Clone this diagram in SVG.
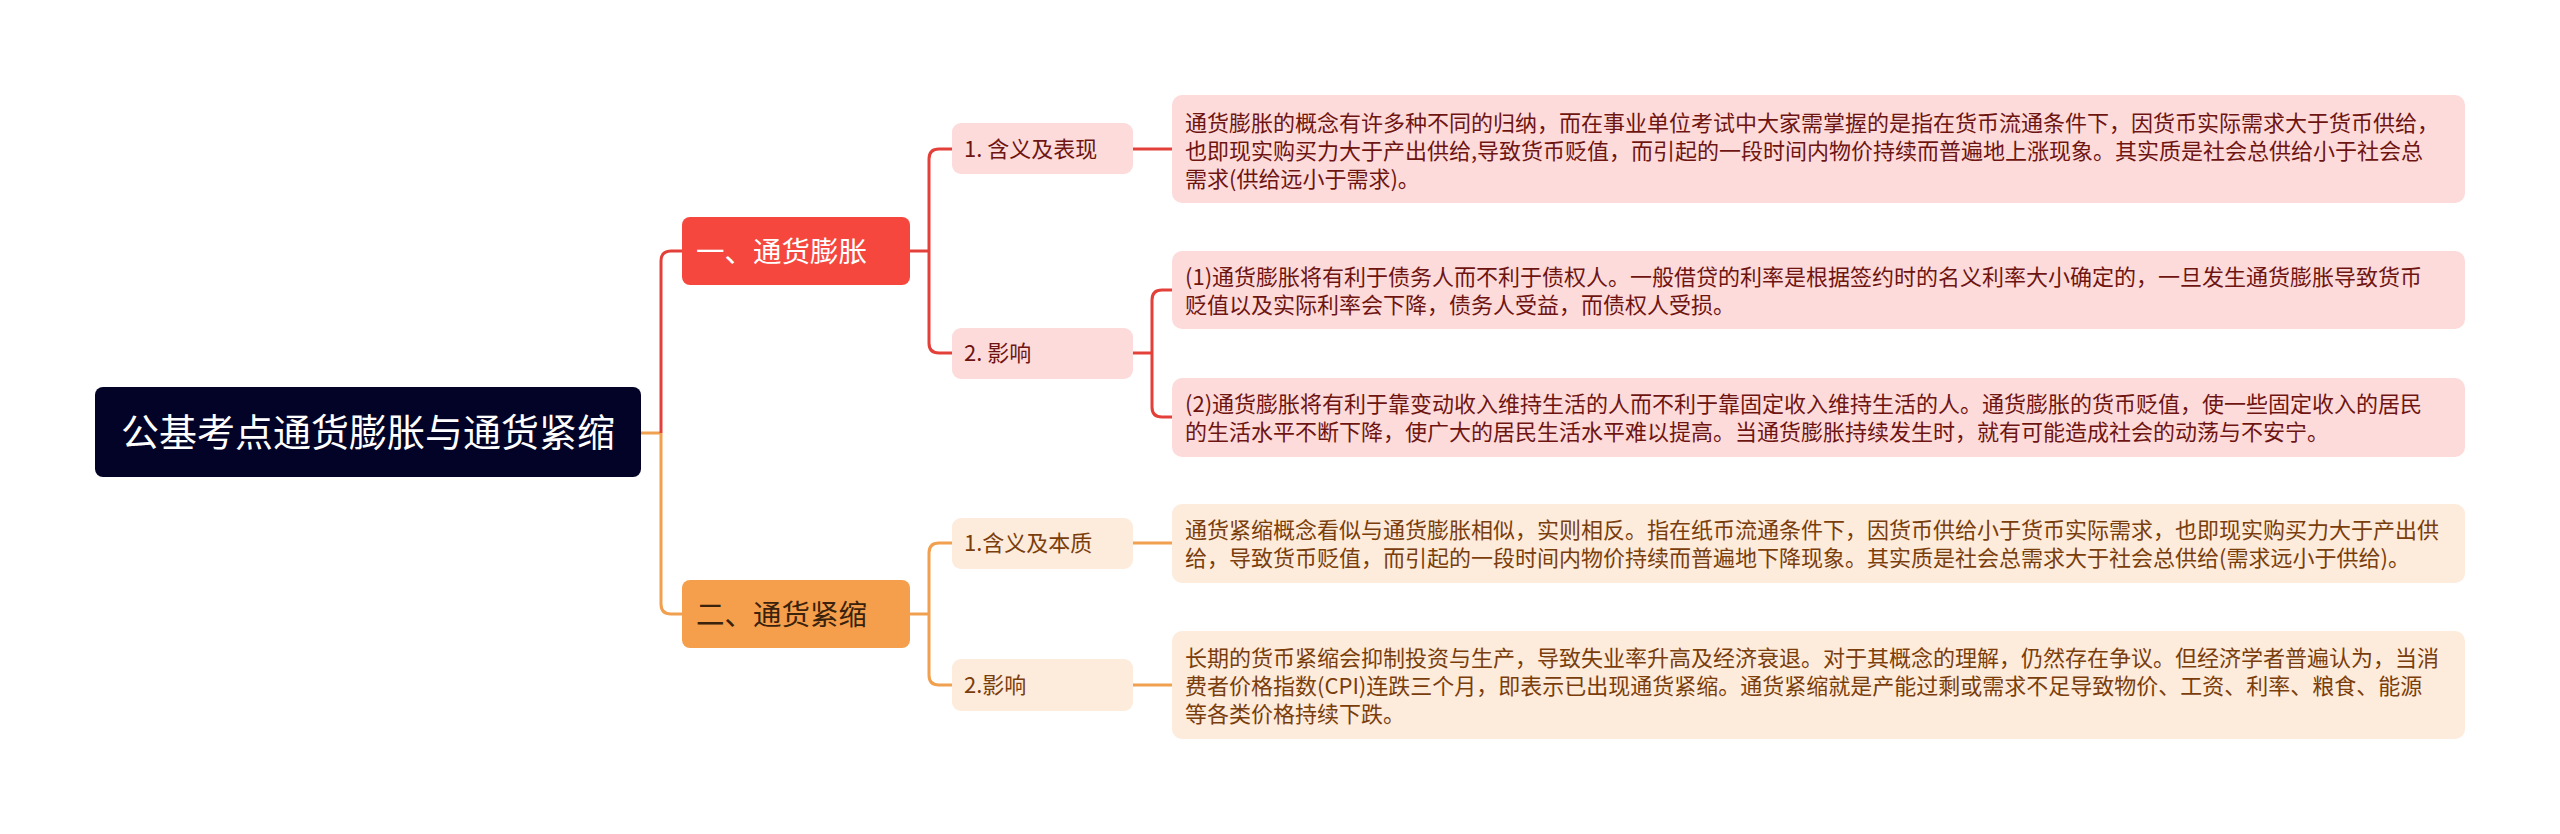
<svg xmlns="http://www.w3.org/2000/svg" width="2560" height="834" viewBox="0 0 2560 834">
<style>
text{font-family:"Noto Sans CJK SC","Noto Sans",sans-serif;}
.root{fill:#020327;}
.roott{fill:#ffffff;font-size:38px;}
.r1{fill:#F5473E;}
.r1t{fill:#ffffff;font-size:28.5px;}
.o1{fill:#F59E4B;}
.o1t{fill:#3a220c;font-size:28.5px;}
.rb{fill:#FDDBDB;}
.rt{fill:#6e1512;font-size:22px;}
.ob{fill:#FDEBDB;}
.ot{fill:#7a3e0c;font-size:22px;}
.lr{fill:none;stroke:#E4403A;stroke-width:3;}
.lo{fill:none;stroke:#F0A04E;stroke-width:3;}
</style>
<rect width="2560" height="834" fill="#ffffff"/>
<g id="connectors">
<path class="lo" d="M641 433 H661"/>
<path class="lr" d="M661 433 V261 Q661 251 671 251 H682"/>
<path class="lo" d="M661 433 V604 Q661 614 671 614 H682"/>
<path class="lr" d="M910 251 H929"/>
<path class="lr" d="M952 149 H939 Q929 149 929 159 V343 Q929 353 939 353 H952"/>
<path class="lr" d="M1133 149 H1172"/>
<path class="lr" d="M1133 353 H1152"/>
<path class="lr" d="M1172 290 H1162 Q1152 290 1152 300 V407 Q1152 417 1162 417 H1172"/>
<path class="lo" d="M910 614 H929"/>
<path class="lo" d="M952 543 H939 Q929 543 929 553 V675 Q929 685 939 685 H952"/>
<path class="lo" d="M1133 543 H1172"/>
<path class="lo" d="M1133 685 H1172"/>
</g>
<g id="root">
<rect class="root" x="95" y="387" width="546" height="90" rx="8"/>
<text class="roott" x="121" y="446">公基考点通货膨胀与通货紧缩</text>
</g>
<g id="n1">
<rect class="r1" x="682" y="217" width="228" height="68" rx="8"/>
<text class="r1t" x="696" y="262">一、通货膨胀</text>
</g>
<g id="n2">
<rect class="o1" x="682" y="580" width="228" height="68" rx="8"/>
<text class="o1t" x="696" y="625">二、通货紧缩</text>
</g>
<g id="n1a">
<rect class="rb" x="952" y="123" width="181" height="51" rx="9"/>
<text class="rt" x="964" y="157">1. 含义及表现</text>
</g>
<g id="n1b">
<rect class="rb" x="952" y="328" width="181" height="51" rx="9"/>
<text class="rt" x="964" y="361">2. 影响</text>
</g>
<g id="n2a">
<rect class="ob" x="952" y="518" width="181" height="51" rx="9"/>
<text class="ot" x="964" y="551">1.含义及本质</text>
</g>
<g id="n2b">
<rect class="ob" x="952" y="659" width="181" height="52" rx="9"/>
<text class="ot" x="964" y="693">2.影响</text>
</g>
<g id="leaf1">
<rect class="rb" x="1172" y="95" width="1293" height="108" rx="10"/>
<text class="rt" x="1185" y="130.5">通货膨胀的概念有许多种不同的归纳，而在事业单位考试中大家需掌握的是指在货币流通条件下，因货币实际需求大于货币供给，</text>
<text class="rt" x="1185" y="158.5">也即现实购买力大于产出供给,导致货币贬值，而引起的一段时间内物价持续而普遍地上涨现象。其实质是社会总供给小于社会总</text>
<text class="rt" x="1185" y="186.5">需求(供给远小于需求)。</text>
</g>
<g id="leaf2">
<rect class="rb" x="1172" y="251" width="1293" height="78" rx="10"/>
<text class="rt" x="1185" y="285">(1)通货膨胀将有利于债务人而不利于债权人。一般借贷的利率是根据签约时的名义利率大小确定的，一旦发生通货膨胀导致货币</text>
<text class="rt" x="1185" y="313">贬值以及实际利率会下降，债务人受益，而债权人受损。</text>
</g>
<g id="leaf3">
<rect class="rb" x="1172" y="378" width="1293" height="79" rx="10"/>
<text class="rt" x="1185" y="412">(2)通货膨胀将有利于靠变动收入维持生活的人而不利于靠固定收入维持生活的人。通货膨胀的货币贬值，使一些固定收入的居民</text>
<text class="rt" x="1185" y="440">的生活水平不断下降，使广大的居民生活水平难以提高。当通货膨胀持续发生时，就有可能造成社会的动荡与不安宁。</text>
</g>
<g id="leaf4">
<rect class="ob" x="1172" y="504" width="1293" height="79" rx="10"/>
<text class="ot" x="1185" y="538">通货紧缩概念看似与通货膨胀相似，实则相反。指在纸币流通条件下，因货币供给小于货币实际需求，也即现实购买力大于产出供</text>
<text class="ot" x="1185" y="566">给，导致货币贬值，而引起的一段时间内物价持续而普遍地下降现象。其实质是社会总需求大于社会总供给(需求远小于供给)。</text>
</g>
<g id="leaf5">
<rect class="ob" x="1172" y="631" width="1293" height="108" rx="10"/>
<text class="ot" x="1185" y="665.5">长期的货币紧缩会抑制投资与生产，导致失业率升高及经济衰退。对于其概念的理解，仍然存在争议。但经济学者普遍认为，当消</text>
<text class="ot" x="1185" y="693.5">费者价格指数(CPI)连跌三个月，即表示已出现通货紧缩。通货紧缩就是产能过剩或需求不足导致物价、工资、利率、粮食、能源</text>
<text class="ot" x="1185" y="721.5">等各类价格持续下跌。</text>
</g>
</svg>
